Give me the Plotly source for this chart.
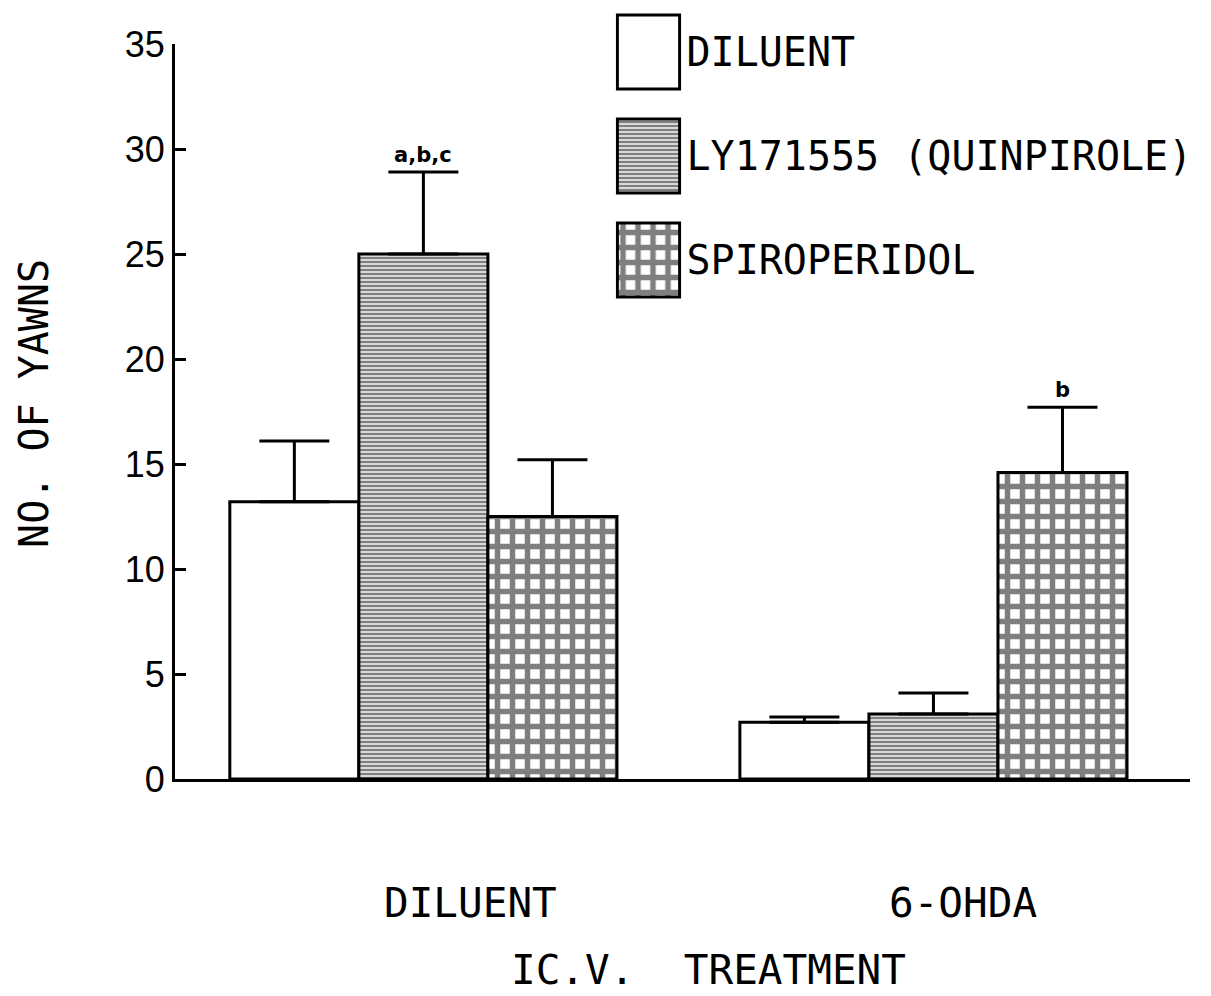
import plotly.graph_objects as go

# ---- data ----
groups = ["DILUENT", "6-OHDA"]
series_names = ["DILUENT", "LY171555\u00a0(QUINPIROLE)", "SPIROPERIDOL"]
diluent_vals = [13.2, 2.7]
diluent_sem = [2.9, 0.25]
ly_vals = [25.0, 3.1]
ly_sem = [3.9, 1.0]
spiro_vals = [12.5, 14.6]
spiro_sem = [2.7, 3.1]
sig_labels = [("a,b,c", 1, 0), ("b", 2, 1)]  # (text, series index, group index)
y_ticks = [0, 5, 10, 15, 20, 25, 30, 35]

TXT = "DejaVu Sans Mono, Liberation Mono, monospace"
NUM = "Liberation Sans, Arial, sans-serif"

BARGAP = 0.241
patterns = [
    dict(shape=""),
    dict(shape="-", size=4, solidity=0.65, fgcolor="black", bgcolor="white"),
    dict(shape="+", size=15, solidity=0.6, fgcolor="black", bgcolor="white"),
]
vals = [diluent_vals, ly_vals, spiro_vals]
sems = [diluent_sem, ly_sem, spiro_sem]

fig = go.Figure()
for i in range(3):
    fig.add_trace(go.Bar(
        x=groups, y=vals[i], name=series_names[i],
        marker=dict(color="white", pattern=patterns[i], line=dict(color="black", width=3)),
        error_y=dict(type="data", symmetric=False, array=sems[i], arrayminus=[0] * len(groups),
                     color="black", thickness=3, width=35),
        showlegend=False, xaxis="x", yaxis="y",
    ))

# legend drawn as small horizontal-bar subplot
for i in range(3):
    fig.add_trace(go.Bar(
        x=[1], y=[series_names[i]], orientation="h", width=0.71,
        marker=dict(color="white", pattern=patterns[i], line=dict(color="black", width=3)),
        showlegend=False, xaxis="x2", yaxis="y2", hoverinfo="skip",
    ))

bw = (1 - BARGAP) / 3
annotations = []
for txt, si, gi in sig_labels:
    annotations.append(dict(
        x=gi + (si - 1) * bw, y=vals[si][gi] + sems[si][gi], xref="x", yref="y",
        text=f"<b>{txt}</b>", showarrow=False, yanchor="bottom", yshift=3,
        font=dict(family="DejaVu Sans, sans-serif", size=21, color="black"),
    ))
for g, shift in zip(groups, [47, 30]):
    annotations.append(dict(
        x=g, y=-0.1592, xref="x", yref="paper", text=g, showarrow=False,
        xshift=shift, yanchor="middle", font=dict(family=TXT, size=41, color="black"),
    ))
annotations.append(dict(
    x=0.526, y=-0.245, xref="paper", yref="paper",
    text="IC.V.\u00a0\u00a0TREATMENT", showarrow=False, yanchor="middle",
    font=dict(family=TXT, size=41, color="black"),
))
annotations.append(dict(
    x=-0.139, y=0.4827, xref="paper", yref="paper", text="NO. OF YAWNS",
    textangle=-90, showarrow=False, xanchor="center", yanchor="middle",
    font=dict(family=TXT, size=40, color="black"),
))

fig.update_layout(
    width=1211, height=996,
    margin=dict(l=175, r=21, t=0, b=217, autoexpand=False),
    paper_bgcolor="white", plot_bgcolor="white",
    barmode="group", bargap=BARGAP, bargroupgap=0,
    xaxis=dict(domain=[0, 1], range=[-0.487, 1.503], showline=True, linewidth=3, linecolor="black",
               showgrid=False, zeroline=False, ticks="", showticklabels=False, anchor="y",
               automargin=False),
    yaxis=dict(domain=[0, 0.9435], range=[0, 35], tickvals=y_ticks, showline=True, linewidth=3,
               linecolor="black", ticks="inside", ticklen=11, tickwidth=3, tickcolor="black",
               showgrid=False, zeroline=False, anchor="x", automargin=False,
               tickfont=dict(family=NUM, size=36, color="black")),
    xaxis2=dict(domain=[0.434, 0.499], range=[-0.03, 1.03], visible=False, anchor="y2",
                automargin=False),
    yaxis2=dict(domain=[0.5995, 1.0], anchor="x2", side="right", autorange="reversed",
                showline=False, showgrid=False, zeroline=False, ticks="", automargin=False,
                ticklabelstandoff=4,
                tickfont=dict(family=TXT, size=40, color="black")),
    annotations=annotations,
    font=dict(color="black"),
)

fig.write_html("out.html", config={"displayModeBar": False},
               post_script="document.body.style.margin='0';document.body.style.overflow='hidden';")
